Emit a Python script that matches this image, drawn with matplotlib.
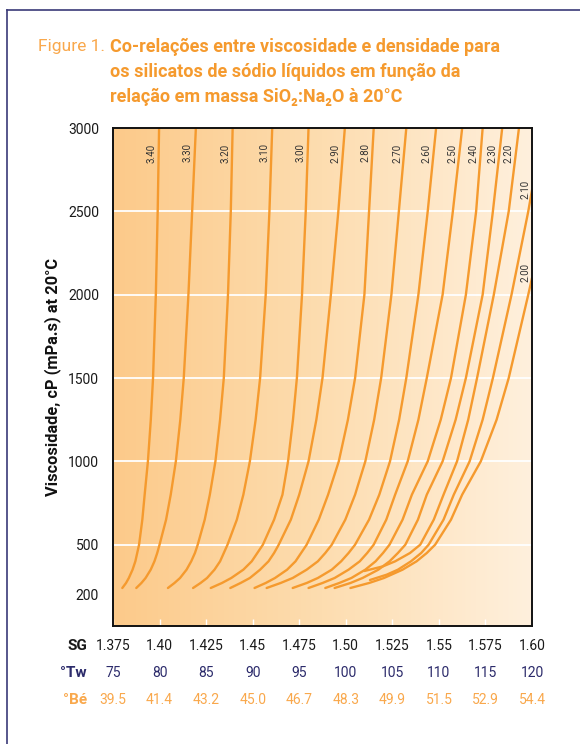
import matplotlib
matplotlib.use("Agg")
import matplotlib.pyplot as plt
import matplotlib.lines as mlines
from matplotlib.colors import LinearSegmentedColormap
import numpy as np

plt.rcParams['font.family'] = ['Roboto', 'DejaVu Sans']

# viscosity (cP) vs. density (degrees Twaddell) for each SiO2:Na2O weight ratio
ratios = ['3.40', '3.30', '3.20', '3.10', '3.00', '2.90', '2.80', '2.70',
          '2.60', '2.50', '2.40', '2.30', '2.20', '2.10', '2.00']

levels = [240, 270, 300, 350, 400, 450, 500, 650, 800, 1000, 1250, 1500, 2000, 2500, 3000]

tw_340 = [76.0, 76.4, 76.7, 77.1, 77.4, 77.6, 77.8, 78.15, 78.4, 78.75, 79.06, 79.3, 79.6, 79.8, 79.95]
tw_330 = [77.5, 78.05, 78.5, 79.05, 79.45, 79.75, 80.0, 80.7, 81.2, 81.75, 82.23, 82.6, 83.1, 83.5, 83.9]
tw_320 = [80.9, 81.6, 82.2, 82.9, 83.4, 83.8, 84.1, 84.85, 85.4, 86.0, 86.5, 86.9, 87.35, 87.65, 87.85]
tw_310 = [83.6, 84.4, 85.1, 85.9, 86.5, 86.9, 87.3, 88.3, 89.0, 89.7, 90.32, 90.8, 91.4, 91.8, 92.1]
tw_300 = [85.5, 86.7, 87.7, 89.0, 89.9, 90.5, 91.1, 92.3, 93.2, 93.8, 94.33, 94.75, 95.3, 95.7, 96.0]
tw_290 = [87.6, 88.7, 89.7, 90.8, 91.7, 92.3, 92.8, 94.1, 95.0, 96.0, 96.84, 97.5, 98.4, 99.2, 99.9]
tw_280 = [90.2, 91.4, 92.4, 93.7, 94.6, 95.2, 95.8, 97.1, 98.1, 99.25, 100.23, 101.0, 102.0, 102.5, 103.0]
tw_270 = [91.5, 93.0, 94.3, 95.8, 97.0, 97.8, 98.5, 99.95, 101.0, 102.1, 103.05, 103.8, 104.9, 105.7, 106.5]
tw_260 = [94.3, 95.8, 97.0, 98.5, 99.5, 100.3, 101.0, 102.5, 103.6, 104.75, 105.73, 106.5, 107.8, 108.8, 109.7]
tw_250 = [96.0, 97.5, 98.8, 100.3, 101.5, 102.3, 103.0, 104.35, 105.3, 106.65, 107.8, 108.7, 110.4, 111.5, 112.5]
tw_240 = [97.8, 99.3, 100.6, 102.1, 103.2, 104.0, 104.7, 106.1, 107.1, 108.8, 110.2, 111.3, 112.9, 114.0, 114.7]
tw_230 = [98.8, 100.5, 101.8, 103.5, 104.7, 105.6, 106.4, 107.75, 108.7, 110.4, 111.8, 112.9, 114.7, 115.8, 116.8]

levels_220 = [342, 370, 400, 450, 500, 650, 800, 1000, 1250, 1500, 2000, 2500, 3000]
tw_220 = [102.0, 104.0, 105.3, 106.9, 108.0, 109.45, 110.5, 111.95, 113.15, 114.1, 115.9, 117.5, 118.6]

levels_210 = [288, 320, 350, 400, 450, 500, 650, 800, 1000, 1250, 1500, 2000, 2500, 2628]
tw_210 = [102.6, 104.4, 105.6, 107.0, 108.1, 108.9, 110.5, 111.6, 113.3, 114.7, 115.8, 117.8, 119.6, 120.0]

levels_200 = [240, 270, 300, 350, 400, 450, 500, 650, 800, 1000, 1250, 1500, 2000, 2100]
tw_200 = [100.5, 102.5, 104.1, 106.1, 107.6, 108.7, 109.6, 111.3, 112.5, 114.5, 116.2, 117.5, 119.6, 120.0]

curves = [(levels, tw_340), (levels, tw_330), (levels, tw_320), (levels, tw_310),
          (levels, tw_300), (levels, tw_290), (levels, tw_280), (levels, tw_270),
          (levels, tw_260), (levels, tw_250), (levels, tw_240), (levels, tw_230),
          (levels_220, tw_220), (levels_210, tw_210), (levels_200, tw_200)]

# viscosity at which each ratio label sits
label_at = [2850] * 13 + [2630, 2130]

sg_labels = ['1.375', '1.40', '1.425', '1.45', '1.475', '1.50', '1.525', '1.55', '1.575', '1.60']
tw_values = [75, 80, 85, 90, 95, 100, 105, 110, 115, 120]
be_labels = ['39.5', '41.4', '43.2', '45.0', '46.7', '48.3', '49.9', '51.5', '52.9', '54.4']

y_ticks = [200, 500, 1000, 1500, 2000, 2500, 3000]
grid_lines = [500, 1000, 1500, 2000, 2500]

orange = '#F59A2E'
navy = '#2C2B6B'
light_orange = '#F9A84C'

fig = plt.figure(figsize=(5.8, 7.44), dpi=100)
ax = fig.add_axes([113 / 580, 1 - 626 / 744, 419 / 580, 498 / 744])

# background gradient
grad = np.linspace(0, 1, 256).reshape(1, -1)
cmap = LinearSegmentedColormap.from_list('bg', ['#FCCA8A', '#FDDDB0', '#FFF0DD'])
ax.imshow(grad, extent=[75, 120, 12, 3000], aspect='auto', cmap=cmap, zorder=0)

for g in grid_lines:
    ax.axhline(g, color='white', lw=1.3, zorder=1)

for (lv, tw), r, ly in zip(curves, ratios, label_at):
    ax.plot(tw, lv, color=orange, lw=1.7, zorder=2, solid_capstyle='round',
            solid_joinstyle='round')
    lx = np.interp(ly, lv, tw)
    ax.annotate(r, xy=(lx, ly), xytext=(-7, 0), textcoords='offset pixels',
                rotation=90, ha='center', va='center', fontsize=7, color='#333333')

ax.set_xlim(75, 120)
ax.set_ylim(12, 3000)
ax.set_yticks(y_ticks)
ax.set_yticklabels([str(v) for v in y_ticks], fontsize=10, color='#1a1a1a')
ax.tick_params(axis='y', length=0, pad=10)
ax.set_xticks(tw_values)
ax.set_xticklabels([])
ax.tick_params(axis='x', direction='in', length=5, color='white', width=1)
for s in ax.spines.values():
    s.set_linewidth(1.4)
    s.set_color('#111111')

ax.set_ylabel('Viscosidade, cP (mPa.s) at 20°C', fontsize=11.8, fontweight='bold',
              color='#111111', labelpad=5)

# rows of density scales under the plot
rows = [(sg_labels, 'SG', '#1a1a1a', 646), ([str(v) for v in tw_values], '°Tw', navy, 673),
        (be_labels, '°Bé', light_orange, 700)]
for labs, head, col, ypix in rows:
    yf = 1 - ypix / 744
    for v, lab in zip(tw_values, labs):
        xf = (113 + (v - 75) / 45 * 419) / 580
        fig.text(xf, yf, lab, ha='center', va='center', fontsize=10, color=col)
    fig.text(87 / 580, yf, head, ha='right', va='center', fontsize=11,
             fontweight='bold', color=col)

# title
fig.text(105 / 580, 1 - 47 / 744, 'Figure 1.', ha='right', va='center', fontsize=12.5,
         color=light_orange)
title_lines = ['Co-relações entre viscosidade e densidade para',
               'os silicatos de sódio líquidos em função da',
               'relação em massa SiO₂:Na₂O à 20°C']
for i, t in enumerate(title_lines):
    fig.text(110 / 580, 1 - (47 + 25 * i) / 744, t, ha='left', va='center',
             fontsize=13, fontweight='bold', color=orange)

# frame around the figure
fig.add_artist(mlines.Line2D([7 / 580, 7 / 580], [0, 1 - 10 / 744], color='#3A3A78', lw=1.2))
fig.add_artist(mlines.Line2D([7 / 580, 1], [1 - 10 / 744, 1 - 10 / 744], color='#3A3A78', lw=1.2))

fig.savefig('out.png', dpi=100)
